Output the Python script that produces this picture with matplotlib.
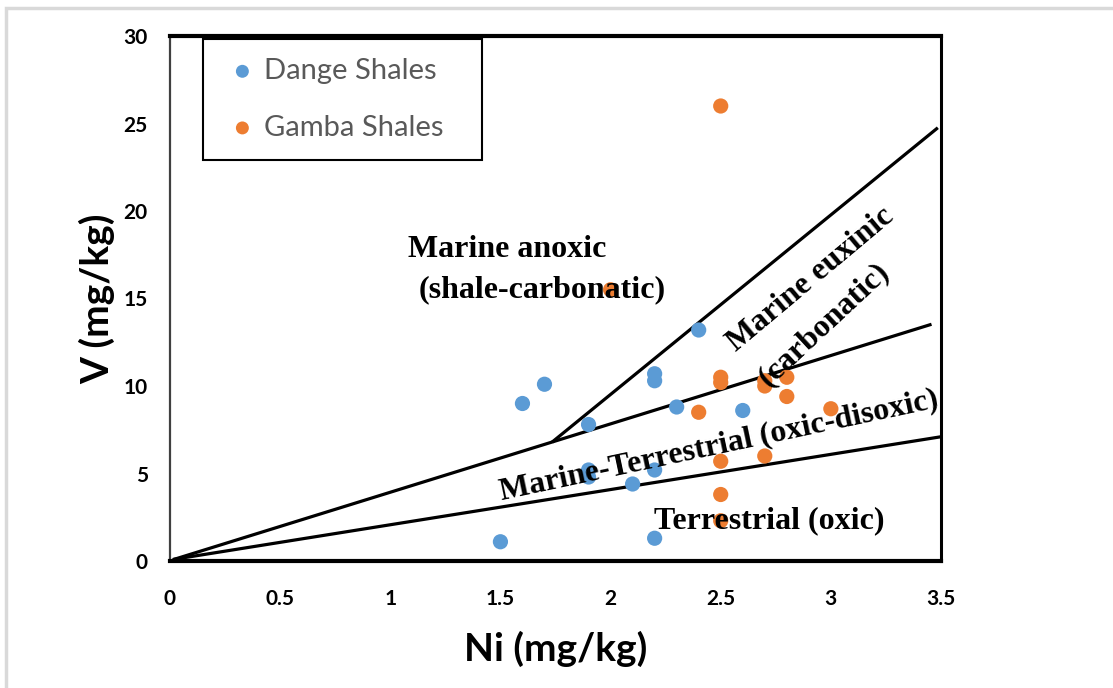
import numpy as np
import matplotlib.pyplot as plt
from matplotlib.patches import Rectangle

# Ni and V contents (mg/kg)
dange_ni = [1.5, 1.6, 1.7, 1.9, 1.9, 1.9, 2.1, 2.2, 2.2, 2.2, 2.2, 2.3, 2.4, 2.6]
dange_v = [1.1, 9.0, 10.1, 7.8, 4.8, 5.2, 4.4, 5.2, 10.7, 10.3, 1.3, 8.8, 13.2, 8.6]

gamba_ni = [2.0, 2.4, 2.5, 2.5, 2.5, 2.5, 2.5, 2.5, 2.7, 2.7, 2.7, 2.8, 2.8, 3.0]
gamba_v = [15.5, 8.5, 26.0, 10.5, 10.2, 5.7, 3.8, 2.3, 10.3, 10.0, 6.0, 10.5, 9.4, 8.7]

# boundary lines between depositional fields
lower_x = [0.02, 3.5]
lower_y = [0.1, 7.1]
middle_x = [0.02, 3.45]
middle_y = [0.1, 13.5]
upper_x = [1.74, 3.48]
upper_y = [6.85, 24.7]

blue = '#5B9BD5'
orange = '#ED7D31'

fig = plt.figure(figsize=(11.13, 6.88), dpi=100)
fig.patches.append(Rectangle((6 / 1113, -0.1), 1.2, 1 - 8 / 688 + 0.1,
                             transform=fig.transFigure, fill=False,
                             edgecolor='#d9d9d9', linewidth=2.5))
ax = fig.add_axes([170 / 1113, 1 - 561 / 688, 771 / 1113, 525 / 688])

ax.plot(lower_x, lower_y, color='black', lw=2.3, zorder=2)
ax.plot(middle_x, middle_y, color='black', lw=2.3, zorder=2)
ax.plot(upper_x, upper_y, color='black', lw=2.3, zorder=2)

ax.scatter(dange_ni, dange_v, s=120, color=blue, edgecolors='none', zorder=3, label='Dange Shales')
ax.scatter(gamba_ni, gamba_v, s=120, color=orange, edgecolors='none', zorder=3, label='Gamba Shales')

serif = dict(family='Liberation Serif', weight='bold', fontsize=23, color='black', zorder=4)
ax.text(1.53, 17.8, 'Marine anoxic', ha='center', va='center', **serif)
ax.text(1.69, 15.5, '(shale-carbonatic)', ha='center', va='center', **serif)
ax.text(2.91, 16.1, 'Marine euxinic', ha='center', va='center', rotation=40, **serif)
ax.text(2.97, 13.5, '(carbonatic)', ha='center', va='center', rotation=43, **serif)
ax.text(2.49, 6.6, 'Marine-Terrestrial (oxic-disoxic)', ha='center', va='center', rotation=12, **serif)
ax.text(2.72, 2.3, 'Terrestrial (oxic)', ha='center', va='center', **serif)

ax.set_xlim(0, 3.5)
ax.set_ylim(0, 30)
ax.set_xticks(np.arange(0, 3.6, 0.5))
ax.set_xticklabels(['0', '0.5', '1', '1.5', '2', '2.5', '3', '3.5'])
ax.set_yticks(range(0, 31, 5))
ax.tick_params(length=0, labelsize=15)
for lab in ax.get_xticklabels() + ax.get_yticklabels():
    lab.set_fontfamily('Lato')
    lab.set_fontweight('bold')
ax.tick_params(axis='x', pad=20)
ax.tick_params(axis='y', pad=16)

ax.set_xlabel('Ni (mg/kg)', fontfamily='Lato', fontweight='bold', fontsize=28, labelpad=16)
ax.set_ylabel('V (mg/kg)', fontfamily='Lato', fontweight='bold', fontsize=28, labelpad=6)

ax.spines['top'].set_linewidth(3)
ax.spines['bottom'].set_linewidth(3)
ax.spines['right'].set_linewidth(2.2)
ax.spines['left'].set_linewidth(1.6)
ax.spines['left'].set_color('#404040')

# legend box spans a fixed width in the upper-left corner
leg = ax.legend(loc='upper left', bbox_to_anchor=(33 / 771, 1 - 3 / 525, 279 / 771, 0),
                mode='expand', frameon=True,
                fancybox=False, edgecolor='black', framealpha=1, borderpad=0.65,
                labelspacing=1.05, handletextpad=0.05, handlelength=1.4, borderaxespad=0,
                markerscale=0.85, prop={'family': 'Lato', 'size': 21})
leg.get_frame().set_linewidth(1.5)
for t in leg.get_texts():
    t.set_color('#595959')

fig.savefig('out.png', dpi=100)
